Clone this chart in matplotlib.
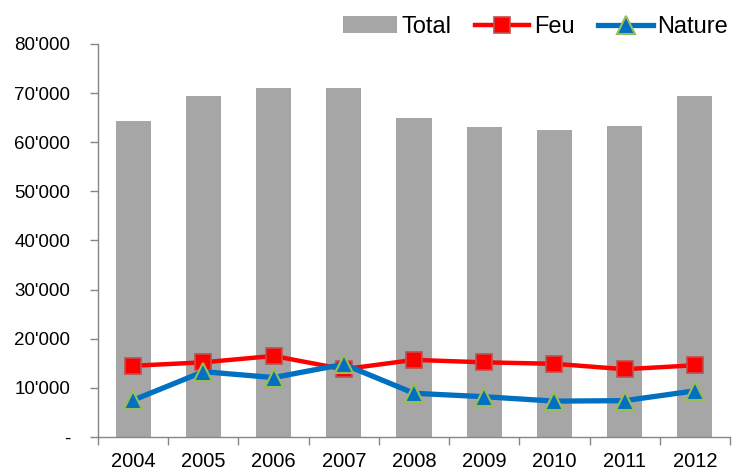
import matplotlib
matplotlib.use("Agg")
import matplotlib.pyplot as plt
from matplotlib.ticker import FuncFormatter, FixedLocator

years = ["2004", "2005", "2006", "2007", "2008", "2009", "2010", "2011", "2012"]
total = [64300, 69400, 71000, 71000, 65000, 63100, 62500, 63400, 69400]
feu = [14500, 15200, 16500, 13800, 15700, 15200, 14900, 13800, 14600]
nature = [7500, 13300, 12100, 14800, 8900, 8200, 7300, 7400, 9400]

plt.rcParams['font.family'] = ['Liberation Sans', 'DejaVu Sans']

fig = plt.figure(figsize=(7.4, 4.7), dpi=100)
ax = fig.add_axes([98/740, 33/470, 632/740, 393/470])

x = list(range(len(years)))
hb = ax.bar(x, total, width=0.5, color="#A6A6A6", label="Total", zorder=1)
hf, = ax.plot(x, feu, color="#FF0000", lw=3.2, marker="s", markersize=12,
        markerfacecolor="#FF0000", markeredgecolor="#C0504D", markeredgewidth=1.2,
        label="Feu", zorder=3)
hn, = ax.plot(x, nature, color="#0070C0", lw=3.8, marker="^", markersize=13,
        markerfacecolor="#0070C0", markeredgecolor="#9BBB59", markeredgewidth=1.5,
        label="Nature", zorder=4)

ax.set_xlim(-0.5, len(years) - 0.5)
ax.set_ylim(0, 80000)
ax.set_yticks(range(0, 80001, 10000))

def fmt(v, pos):
    if v == 0:
        return "-"
    return f"{int(v):,}".replace(",", "'")

ax.yaxis.set_major_formatter(FuncFormatter(fmt))
ax.set_xticks(x)
ax.set_xticklabels(years)
ax.xaxis.set_minor_locator(FixedLocator([i - 0.5 for i in range(len(years) + 1)]))
ax.tick_params(axis="x", which="major", length=0, labelsize=14.5, pad=11)
ax.tick_params(axis="x", which="minor", length=6, color="#868686", width=1, direction="out")
ax.tick_params(axis="y", length=6, color="#868686", width=1, labelsize=13.5, pad=14, direction="out")

for s in ["top", "right"]:
    ax.spines[s].set_visible(False)
for s in ["left", "bottom"]:
    ax.spines[s].set_color("#868686")
    ax.spines[s].set_linewidth(1)

fig.legend([hb, hf, hn], ["Total", "Feu", "Nature"],
           loc="center right", bbox_to_anchor=(1.0, 1 - 27/470), ncol=3, frameon=False,
           fontsize=17, handlelength=2.3, handletextpad=0.2, columnspacing=1.0,
           borderaxespad=0.1)

fig.savefig("out.png", dpi=100)
